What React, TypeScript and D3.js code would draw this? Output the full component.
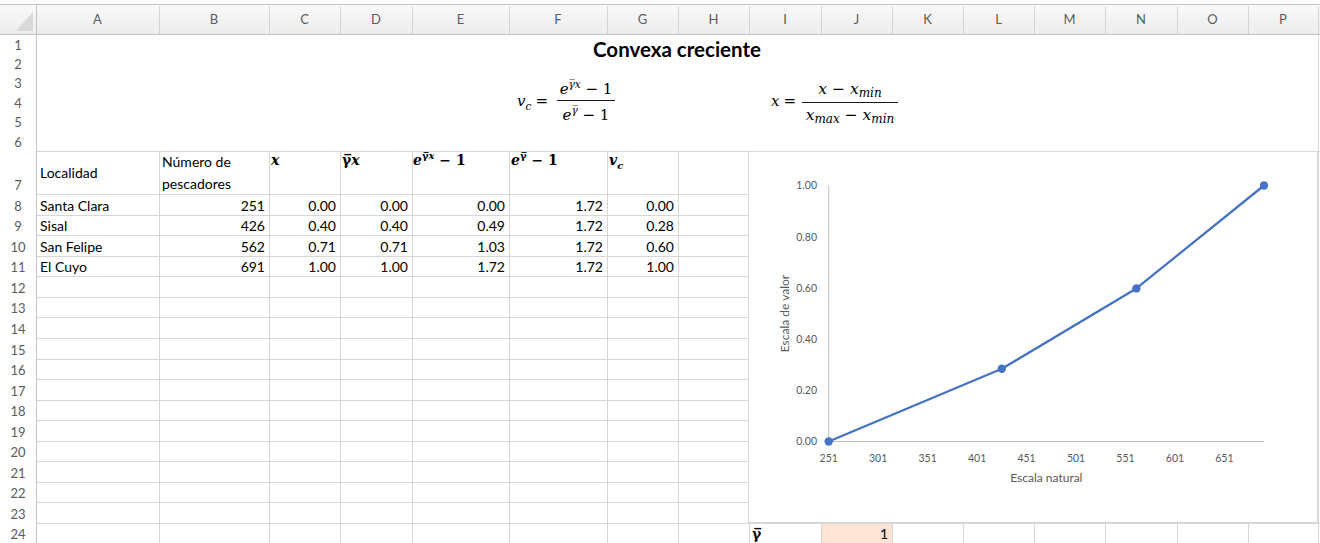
import React from "react";
import * as d3 from "d3";

// ---- data ----
const columnLetters = ["A","B","C","D","E","F","G","H","I","J","K","L","M","N","O","P"];
const localidades = ["Santa Clara", "Sisal", "San Felipe", "El Cuyo"];
const pescadores = [251, 426, 562, 691];
const xNorm = [0.0, 0.398, 0.707, 1.0];
const gammaX = [0.0, 0.398, 0.707, 1.0];
const expGammaXMinus1 = [0.0, 0.488, 1.028, 1.718];
const expGammaMinus1 = [1.718, 1.718, 1.718, 1.718];
const vc = [0.0, 0.284, 0.598, 1.0];
const xTicks = [251, 301, 351, 401, 451, 501, 551, 601, 651];
const yTicks = [0, 0.2, 0.4, 0.6, 0.8, 1.0];
const gammaValue = 1;
const title = "Convexa creciente";
const xAxisTitle = "Escala natural";
const yAxisTitle = "Escala de valor";

// ---- layout ----
const W = 1320;
const H = 543;
const colEdges = [36, 159, 269, 340, 412, 509, 607, 678, 749, 821, 892, 963, 1034, 1105, 1177, 1248, 1318];
const topRowHeights = [20, 19, 19, 20, 19, 20];
const rowTops: number[] = [];
const rowBottoms: number[] = [];
{
  let y = 34;
  for (let i = 0; i < 6; i++) { rowTops.push(y); y += topRowHeights[i]; rowBottoms.push(y); }
  rowTops.push(151); rowBottoms.push(194);
  const h = (523 - 194) / 16;
  for (let i = 0; i < 16; i++) { rowTops.push(194 + i * h); rowBottoms.push(194 + (i + 1) * h); }
  rowTops.push(523); rowBottoms.push(544);
}
const GRID = "#d6d6d6";
const UI = "Lato, 'Open Sans', sans-serif";
const MATH = "'DejaVu Serif', 'Liberation Serif', serif";

const chartBox = { x0: 749, x1: 1318, y0: 151, y1: 523 };

function Chart() {
  const x = d3.scaleLinear().domain([251, 691]).range([828.7, 1264]);
  const y = d3.scaleLinear().domain([0, 1]).range([441.5, 185.5]);
  const pts = pescadores.map((p, i) => [x(p), y(vc[i])] as [number, number]);
  const line = d3.line()(pts) || "";
  const fmt = d3.format(".2f");
  return (
    <g>
      <rect x={chartBox.x0 - 0.5} y={chartBox.y0 + 0.5} width={chartBox.x1 - chartBox.x0} height={chartBox.y1 - chartBox.y0 - 1}
        fill="#ffffff" stroke="#d9d9d9" strokeWidth={1} />
      <line x1={x(251)} x2={x(251)} y1={y(1)} y2={y(0)} stroke="#bfbfbf" strokeWidth={1} />
      <line x1={x(251)} x2={x(691)} y1={y(0)} y2={y(0)} stroke="#bfbfbf" strokeWidth={1} />
      {yTicks.map((t) => (
        <text key={"y" + t} x={817} y={y(t) + 3.8} textAnchor="end" fontSize={10.5} fill="#595959" fontFamily={UI}>{fmt(t)}</text>
      ))}
      {xTicks.map((t) => (
        <text key={"x" + t} x={x(t)} y={461.5} textAnchor="middle" fontSize={10.5} fill="#595959" fontFamily={UI}>{t}</text>
      ))}
      <text x={(x(251) + x(691)) / 2} y={482} textAnchor="middle" fontSize={12} fill="#595959" fontFamily={UI}>{xAxisTitle}</text>
      <text transform={`translate(789,${(y(0) + y(1)) / 2}) rotate(-90)`} textAnchor="middle" fontSize={12} fill="#595959" fontFamily={UI}>{yAxisTitle}</text>
      <path d={line} fill="none" stroke="#4472c4" strokeWidth={2.25} strokeLinejoin="round" />
      {pts.map((p, i) => (
        <circle key={i} cx={p[0]} cy={p[1]} r={4.2} fill="#4472c4" />
      ))}
    </g>
  );
}

function Grid() {
  const els: React.ReactNode[] = [];
  for (let r = 6; r < rowTops.length; r++) {
    const yy = Math.round(rowTops[r]) + 0.5;
    const inChart = yy > chartBox.y0 + 1 && yy < chartBox.y1 - 1;
    if (inChart) {
      els.push(<line key={"h" + r} x1={36} x2={chartBox.x0} y1={yy} y2={yy} stroke={GRID} />);
    } else {
      els.push(<line key={"h" + r} x1={36} x2={1320} y1={yy} y2={yy} stroke={GRID} />);
    }
  }
  colEdges.forEach((cx, i) => {
    const xx = cx + 0.5;
    if (cx > chartBox.x0 && cx < chartBox.x1) {
      els.push(<line key={"v" + i} x1={xx} x2={xx} y1={chartBox.y1} y2={H} stroke={GRID} />);
    } else if (cx === 1318) {
      els.push(<line key={"v" + i} x1={xx} x2={xx} y1={34} y2={H} stroke={GRID} />);
    } else {
      els.push(<line key={"v" + i} x1={xx} x2={xx} y1={151} y2={H} stroke={GRID} />);
    }
  });
  return <g>{els}</g>;
}

function Headers() {
  return (
    <g>
      <defs>
        <linearGradient id="hdr" x1="0" y1="0" x2="0" y2="1">
          <stop offset="0" stopColor="#f9f9f9" />
          <stop offset="1" stopColor="#ededed" />
        </linearGradient>
      </defs>
      <rect x={0} y={4} width={W} height={30} fill="url(#hdr)" />
      <line x1={0} x2={W} y1={4.5} y2={4.5} stroke="#c4c4c4" />
      <line x1={0} x2={W} y1={34.5} y2={34.5} stroke="#c4c4c4" />
      <line x1={36.5} x2={36.5} y1={4} y2={H} stroke="#c4c4c4" />
      <path d="M16,31 L33,31 L33,12 Z" fill="#d9d9d9" />
      {columnLetters.map((c, i) => {
        const a = colEdges[i], b = colEdges[i + 1];
        return (
          <g key={c}>
            <line x1={b + 0.5} x2={b + 0.5} y1={6} y2={34} stroke="#d4d4d4" />
            <text x={(a + b) / 2} y={24} textAnchor="middle" fontSize={13} fill="#5c5c5c" fontFamily={UI}>{c}</text>
          </g>
        );
      })}
      {rowBottoms.map((b, i) => (
        <text key={i} x={18} y={Math.min(b, 543) - 4} textAnchor="middle" fontSize={13} fill="#5c5c5c" fontFamily={UI}>{i + 1}</text>
      ))}
    </g>
  );
}

function Formulas() {
  const ov = "\u0305";
  return (
    <g fontFamily={MATH} fill="#000">
      <text x={677} y={57} textAnchor="middle" fontSize={20.5} fontWeight="bold" fontFamily={UI}>{title}</text>
      <text x={517} y={106} fontSize={15}>
        <tspan fontStyle="italic">v</tspan>
        <tspan fontStyle="italic" fontSize={10.5} dy={4}>c</tspan>
        <tspan dy={-4} dx={4}>=</tspan>
      </text>
      <line x1={557} x2={615} y1={100.5} y2={100.5} stroke="#000" strokeWidth={0.9} />
      <text x={586} y={94} fontSize={15} textAnchor="middle">
        <tspan fontStyle="italic">e</tspan>
        <tspan fontStyle="italic" fontSize={10.5} dy={-6}>{"γ" + ov + "x"}</tspan>
        <tspan dy={6}>{" − 1"}</tspan>
      </text>
      <text x={586} y={120} fontSize={15} textAnchor="middle">
        <tspan fontStyle="italic">e</tspan>
        <tspan fontStyle="italic" fontSize={10.5} dy={-6}>{"γ" + ov}</tspan>
        <tspan dy={6}>{" − 1"}</tspan>
      </text>
      <text x={771} y={106} fontSize={15}>
        <tspan fontStyle="italic">x</tspan>
        <tspan dx={4}>=</tspan>
      </text>
      <line x1={802} x2={898} y1={102.5} y2={102.5} stroke="#000" strokeWidth={0.9} />
      <text x={850} y={94} fontSize={15.5} textAnchor="middle">
        <tspan fontStyle="italic">x</tspan>
        <tspan>{" − "}</tspan>
        <tspan fontStyle="italic">x</tspan>
        <tspan fontStyle="italic" fontSize={12} dy={3}>min</tspan>
      </text>
      <text x={850} y={120} fontSize={15.5} textAnchor="middle">
        <tspan fontStyle="italic">x</tspan>
        <tspan fontStyle="italic" fontSize={12} dy={3}>max</tspan>
        <tspan dy={-3}>{" − "}</tspan>
        <tspan fontStyle="italic">x</tspan>
        <tspan fontStyle="italic" fontSize={12} dy={3}>min</tspan>
      </text>
    </g>
  );
}

function Table() {
  const fmt = d3.format(".2f");
  const ov = "\u0305";
  const hb = 165;
  const cols = [xNorm, gammaX, expGammaXMinus1, expGammaMinus1, vc];
  return (
    <g>
      <text x={40} y={178} fontSize={14} fontFamily={UI}>Localidad</text>
      <text x={162} y={167} fontSize={14} fontFamily={UI}>Número de</text>
      <text x={162} y={189} fontSize={14} fontFamily={UI}>pescadores</text>
      <g fontFamily={MATH} fontWeight="bold" fontSize={14}>
        <text x={271} y={hb} fontStyle="italic">x</text>
        <text x={342} y={hb}><tspan>{"γ" + ov}</tspan><tspan fontStyle="italic">x</tspan></text>
        <text x={413} y={hb}>
          <tspan fontStyle="italic">e</tspan>
          <tspan fontSize={10} dy={-6}>{"γ" + ov}</tspan>
          <tspan fontSize={10} fontStyle="italic">x</tspan>
          <tspan dy={6}>{" − 1"}</tspan>
        </text>
        <text x={511} y={hb}>
          <tspan fontStyle="italic">e</tspan>
          <tspan fontSize={10} dy={-6}>{"γ" + ov}</tspan>
          <tspan dy={6}>{" − 1"}</tspan>
        </text>
        <text x={609} y={hb}>
          <tspan fontStyle="italic">v</tspan>
          <tspan fontStyle="italic" fontSize={10} dy={4}>c</tspan>
        </text>
      </g>
      {localidades.map((name, i) => {
        const by = rowBottoms[7 + i] - 4;
        return (
          <g key={name} fontFamily={UI} fontSize={14}>
            <text x={40} y={by}>{name}</text>
            <text x={colEdges[2] - 4} y={by} textAnchor="end">{pescadores[i]}</text>
            {cols.map((arr, j) => (
              <text key={j} x={colEdges[3 + j] - 4} y={by} textAnchor="end">{fmt(arr[i])}</text>
            ))}
          </g>
        );
      })}
      <rect x={colEdges[9] + 1} y={524} width={colEdges[10] - colEdges[9] - 1} height={20} fill="#fce4d6" />
      <text x={752} y={539} fontFamily={MATH} fontWeight="bold" fontSize={14}>{"γ" + ov}</text>
      <text x={colEdges[10] - 4} y={539} textAnchor="end" fontFamily={UI} fontSize={14}>{gammaValue}</text>
    </g>
  );
}

export default function App() {
  return (
    <div style={{ position: "fixed", left: 0, top: 0, width: W, height: H, background: "#fff" }}>
      <svg width={W} height={H} viewBox={`0 0 ${W} ${H}`} style={{ display: "block" }}>
        <rect x={0} y={0} width={W} height={H} fill="#ffffff" />
        <Grid />
        <Headers />
        <Formulas />
        <Table />
        <Chart />
      </svg>
    </div>
  );
}
